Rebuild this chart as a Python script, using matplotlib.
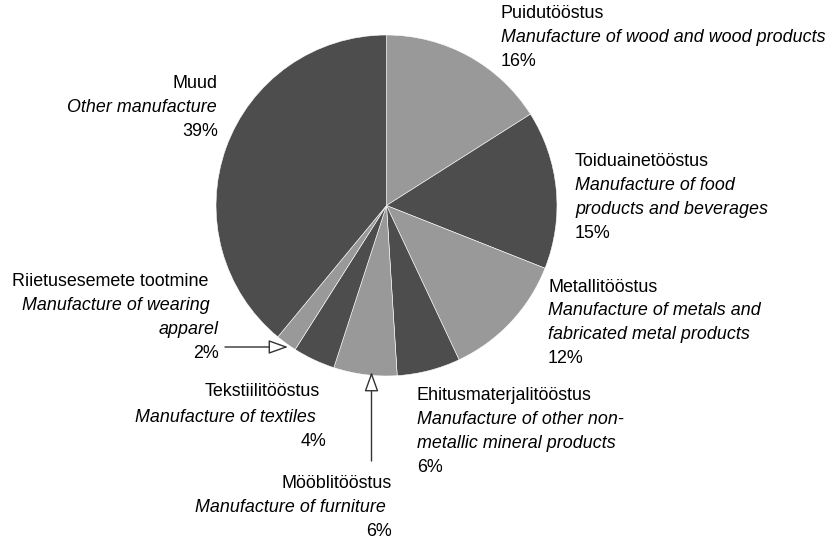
import matplotlib
matplotlib.use("Agg")
import matplotlib.pyplot as plt
from matplotlib.patches import FancyArrowPatch

# ---- data ----
categories_et = ["Puidutööstus", "Toiduainetööstus", "Metallitööstus",
                 "Ehitusmaterjalitööstus", "Mööblitööstus", "Tekstiilitööstus",
                 "Riietusesemete tootmine", "Muud"]
categories_en = ["Manufacture of wood and wood products",
                 "Manufacture of food\nproducts and beverages",
                 "Manufacture of metals and\nfabricated metal products",
                 "Manufacture of other non-\nmetallic mineral products",
                 "Manufacture of furniture",
                 "Manufacture of textiles",
                 "Manufacture of wearing\napparel",
                 "Other manufacture"]
shares = [16, 15, 12, 6, 6, 4, 2, 39]
colors = ["#999999", "#4d4d4d"] * 4

W, H = 827, 540
fig = plt.figure(figsize=(W / 100, H / 100), dpi=100)
ax = fig.add_axes([0, 0, 1, 1])

cx, cy, R = 386.5, 205.5, 170.5
ax.pie(shares, colors=colors, startangle=90, counterclock=False,
       center=(cx, H - cy), radius=R, frame=True,
       wedgeprops=dict(edgecolor="white", linewidth=0.4))
ax.set_xlim(0, W)
ax.set_ylim(0, H)
ax.set_aspect("auto")
ax.axis("off")

FS = 12.85
FONT = "Liberation Sans"

# label layout: (x per line, y of first line, ha, line spacing)
layout = [
    ([501] * 3, 14, "left", 23.8),
    ([575] * 4, 162, "left", 23.7),
    ([548] * 4, 287, "left", 23.7),
    ([417] * 4, 395, "left", 24),
    ([392, 386, 392], 483, "right", 24.5),
    ([320, 316, 326], 392, "right", 25),
    ([208, 210, 219, 219], 282, "right", 23.7),
    ([218, 217, 218], 83, "right", 24.5),
]

for i, (xs, y0, ha, dy) in enumerate(layout):
    lines = [(categories_et[i], "normal")]
    lines += [(l, "italic") for l in categories_en[i].split("\n")]
    lines += [(f"{shares[i]}%", "normal")]
    for k, (txt, style) in enumerate(lines):
        ax.text(xs[k], H - (y0 + k * dy), txt, ha=ha, va="center",
                fontsize=FS, family=FONT, style=style, color="black")

# arrows
arrow_kw = dict(arrowstyle="-|>,head_length=12,head_width=4.3",
                mutation_scale=1, facecolor="white", edgecolor="#333333",
                linewidth=1.0, shrinkA=0, shrinkB=0)
ax.add_patch(FancyArrowPatch((225, H - 347), (288, H - 347), **arrow_kw))
ax.add_patch(FancyArrowPatch((371.5, H - 461), (371.5, H - 372), **arrow_kw))

fig.savefig("out.png", dpi=100)
